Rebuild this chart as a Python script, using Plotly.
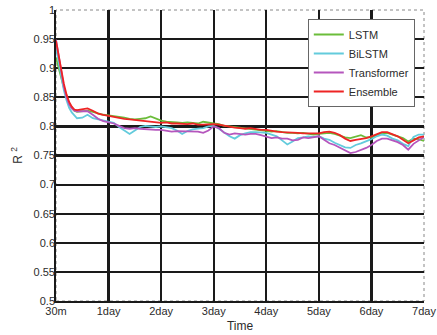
import plotly.graph_objects as go

time_days = [0, 0.05, 0.1, 0.15, 0.2, 0.25, 0.3, 0.35, 0.4,
             0.5, 0.6, 0.7, 0.8, 0.9, 1.0, 1.1, 1.2, 1.3, 1.4,
             1.5, 1.6, 1.7, 1.8, 1.9, 2.0, 2.1, 2.2, 2.3, 2.4,
             2.5, 2.6, 2.7, 2.8, 2.9, 3.0, 3.1, 3.2, 3.3, 3.4,
             3.5, 3.6, 3.7, 3.8, 3.9, 4.0, 4.1, 4.2, 4.3, 4.4,
             4.5, 4.6, 4.7, 4.8, 4.9, 5.0, 5.1, 5.2, 5.3, 5.4,
             5.5, 5.6, 5.7, 5.8, 5.9, 6.0, 6.1, 6.2, 6.3, 6.4,
             6.5, 6.6, 6.7, 6.8, 6.9, 7.0]

lstm = [0.918, 0.900, 0.882, 0.866, 0.852, 0.840, 0.832, 0.827, 0.825,
        0.826, 0.827, 0.825, 0.822, 0.820, 0.819, 0.818, 0.816, 0.815, 0.813,
        0.812, 0.813, 0.814, 0.817, 0.813, 0.810, 0.808, 0.808, 0.807, 0.806,
        0.807, 0.806, 0.805, 0.808, 0.806, 0.805, 0.804, 0.801, 0.800, 0.799,
        0.797, 0.796, 0.795, 0.795, 0.793, 0.792, 0.791, 0.792, 0.790, 0.789,
        0.789, 0.788, 0.789, 0.788, 0.786, 0.787, 0.788, 0.789, 0.787, 0.784,
        0.781, 0.780, 0.782, 0.785, 0.781, 0.781, 0.785, 0.788, 0.789, 0.786,
        0.784, 0.780, 0.774, 0.779, 0.778, 0.775]

bilstm = [0.935, 0.910, 0.885, 0.862, 0.845, 0.832, 0.824, 0.819, 0.814,
          0.815, 0.820, 0.814, 0.812, 0.810, 0.809, 0.806, 0.799, 0.793, 0.787,
          0.793, 0.799, 0.801, 0.800, 0.799, 0.800, 0.799, 0.797, 0.793, 0.787,
          0.792, 0.795, 0.796, 0.797, 0.800, 0.801, 0.796, 0.789, 0.783, 0.779,
          0.785, 0.788, 0.790, 0.790, 0.789, 0.789, 0.786, 0.783, 0.776, 0.769,
          0.774, 0.780, 0.781, 0.783, 0.782, 0.783, 0.779, 0.777, 0.772, 0.768,
          0.764, 0.763, 0.768, 0.771, 0.774, 0.778, 0.783, 0.786, 0.784, 0.779,
          0.776, 0.770, 0.766, 0.782, 0.786, 0.786]

transformer = [0.949, 0.920, 0.893, 0.868, 0.850, 0.838, 0.831, 0.827, 0.826,
               0.826, 0.826, 0.820, 0.813, 0.809, 0.807, 0.805, 0.801, 0.797, 0.796,
               0.797, 0.796, 0.795, 0.795, 0.794, 0.794, 0.793, 0.791, 0.792, 0.792,
               0.791, 0.792, 0.791, 0.789, 0.793, 0.800, 0.797, 0.789, 0.786, 0.788,
               0.787, 0.786, 0.787, 0.787, 0.785, 0.783, 0.780, 0.781, 0.779, 0.779,
               0.776, 0.777, 0.781, 0.780, 0.781, 0.783, 0.777, 0.771, 0.768, 0.763,
               0.758, 0.754, 0.756, 0.759, 0.763, 0.768, 0.775, 0.779, 0.779, 0.776,
               0.773, 0.768, 0.760, 0.770, 0.776, 0.782]

ensemble = [0.947, 0.920, 0.895, 0.873, 0.855, 0.842, 0.834, 0.829, 0.828,
            0.830, 0.831, 0.827, 0.822, 0.820, 0.818, 0.817, 0.815, 0.813, 0.812,
            0.811, 0.810, 0.810, 0.808, 0.807, 0.806, 0.807, 0.805, 0.805, 0.804,
            0.804, 0.805, 0.803, 0.803, 0.804, 0.804, 0.803, 0.801, 0.799, 0.798,
            0.797, 0.796, 0.797, 0.795, 0.794, 0.794, 0.792, 0.791, 0.790, 0.790,
            0.790, 0.789, 0.788, 0.788, 0.787, 0.788, 0.790, 0.791, 0.789, 0.785,
            0.779, 0.775, 0.777, 0.778, 0.780, 0.783, 0.787, 0.790, 0.790, 0.787,
            0.783, 0.777, 0.771, 0.776, 0.781, 0.783]

series_names = ["LSTM", "BiLSTM", "Transformer", "Ensemble"]
series_values = [lstm, bilstm, transformer, ensemble]
series_colors = ["#6bbd3a", "#63cbdc", "#b556bd", "#ee2424"]
# first three on the grid axes, the last one on the labelled overlay axes
series_axes = [("x", "y"), ("x", "y"), ("x", "y"), ("x2", "y2")]

x_tick_vals = [0, 1, 2, 3, 4, 5, 6, 7]
x_tick_text = ["30m", "1day", "2day", "3day", "4day", "5day", "6day", "7day"]
y_tick_vals = [0.5, 0.55, 0.6, 0.65, 0.7, 0.75, 0.8, 0.85, 0.9, 0.95, 1.0]
y_tick_text = ["0.5", "0.55", "0.6", "0.65", "0.7", "0.75", "0.8", "0.85", "0.9", "0.95", "1"]

FONT = "Liberation Sans, Arial, sans-serif"
TXT = "#2b2b2b"

fig = go.Figure()
for name, vals, col, (xa, ya) in zip(series_names, series_values, series_colors, series_axes):
    fig.add_trace(go.Scatter(x=time_days, y=vals, mode="lines", name=name,
                             xaxis=xa, yaxis=ya,
                             line=dict(color=col, width=1.8)))

fig.update_layout(
    width=437, height=335,
    margin=dict(l=56, r=13, t=10, b=34, autoexpand=False),
    paper_bgcolor="white", plot_bgcolor="white",
    font=dict(family=FONT, size=11, color=TXT),
    showlegend=True,
    legend=dict(x=0.975, y=0.969, xanchor="right", yanchor="top",
                bgcolor="white", bordercolor="#666666", borderwidth=1,
                font=dict(family=FONT, size=11, color=TXT),
                tracegroupgap=0, itemwidth=30),
    xaxis=dict(range=[0, 7], tickvals=x_tick_vals[1:-1], showticklabels=False,
               showgrid=True, gridcolor="#1a1a1a", gridwidth=2.2,
               showline=True, linecolor="#1a1a1a", linewidth=2,
               zeroline=False, ticks="", automargin=False),
    yaxis=dict(range=[0.5, 1.0], tickvals=y_tick_vals[1:-1], showticklabels=False,
               showgrid=True, gridcolor="#1a1a1a", gridwidth=2.2,
               showline=True, linecolor="#1a1a1a", linewidth=2,
               zeroline=False, ticks="", automargin=False),
    xaxis2=dict(range=[0, 7], overlaying="x", anchor="y2", side="bottom",
                tickvals=x_tick_vals, ticktext=x_tick_text, showgrid=False,
                zeroline=False, showline=False, ticks="", automargin=False,
                ticklabelstandoff=2,
                title=dict(text="Time", standoff=5, font=dict(size=12)),
                tickfont=dict(size=11, color=TXT)),
    yaxis2=dict(range=[0.5, 1.0], overlaying="y", anchor="x2", side="left",
                tickvals=y_tick_vals, ticktext=y_tick_text, showgrid=False,
                zeroline=False, showline=False, ticks="", automargin=False,
                title=dict(text="R <sup>2</sup>", standoff=8, font=dict(size=12)),
                tickfont=dict(size=11, color=TXT)),
)

fig.add_shape(type="rect", xref="paper", yref="paper", x0=0, y0=0, x1=1, y1=1,
              line=dict(color="#888888", width=1, dash="dot"), layer="below")

fig.write_html("out.html",
               config={"displayModeBar": False, "staticPlot": True},
               post_script="document.body.style.margin='0px';"
                           "document.body.style.overflow='hidden';")
